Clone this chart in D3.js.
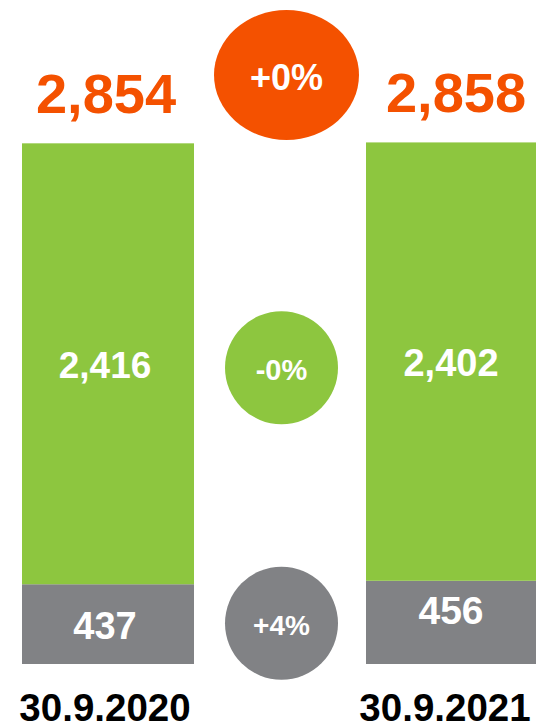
<!DOCTYPE html>
<meta charset="utf-8">
<style>
    body {
        margin: 0;
        background: #fff;
    }

    svg {
        font-family: "Liberation Sans", Arial, sans-serif;
        font-weight: bold;
        display: block;
    }
</style>
<body>
<script src="https://cdn.jsdelivr.net/npm/d3@7"></script>
<script>
    const width = 536;
    const height = 726;

    // data
    const dates = ["30.9.2020", "30.9.2021"];
    const coreValues = [2416, 2402];
    const otherValues = [437, 456];
    const totalValues = [2854, 2858];
    const changes = ["+0%", "-0%", "+4%"]; // total, core, other

    const orange = "#f45100";
    const green = "#8dc63f";
    const grey = "#818285";

    const svg = d3.select("body")
        .append("svg")
        .attr("width", width)
        .attr("height", height);

    const x = d3.scaleBand()
        .domain(dates)
        .range([22, 538])
        .paddingInner(0.5)
        .paddingOuter(0);

    const y = d3.scaleLinear()
        .domain([0, 3000])
        .range([664, 116.5]);

    const fmt = d3.format(",");

    // stacked segments: other at bottom, core on top
    const rows = dates.map((d, i) => ({
        date: d,
        other: otherValues[i],
        core: coreValues[i],
        total: totalValues[i]
    }));

    const stack = d3.stack().keys(["other", "core"])(rows);
    const colors = { other: grey, core: green };

    const layers = svg.selectAll(".layer")
        .data(stack)
        .enter().append("g")
        .attr("class", "layer")
        .attr("fill", s => colors[s.key]);

    layers.selectAll("rect")
        .data(s => s)
        .enter().append("rect")
        .attr("x", d => x(d.data.date))
        .attr("width", x.bandwidth())
        .attr("y", d => y(d[1]))
        .attr("height", d => y(d[0]) - y(d[1]));

    // labels inside the segments
    const segFont = { other: [38, 39], core: [37, 38] };
    const segDy = { other: [14.5, 1.5], core: [14, 14.5] };

    layers.selectAll("text")
        .data(s => s.map((d, i) => ({ key: s.key, d: d, i: i })))
        .enter().append("text")
        .attr("x", o => x(o.d.data.date) + x.bandwidth() / 2 - (o.i ? 1 : 3))
        .attr("y", o => (y(o.d[0]) + y(o.d[1])) / 2 + segDy[o.key][o.i])
        .attr("text-anchor", "middle")
        .attr("fill", "#fff")
        .style("font-size", o => segFont[o.key][o.i] + "px")
        .text(o => fmt(o.d.data[o.key]));

    // totals above bars
    svg.selectAll(".total")
        .data(rows)
        .enter().append("text")
        .attr("class", "total")
        .attr("x", (d, i) => x(d.date) + x.bandwidth() / 2 + (i ? 4 : -2))
        .attr("y", d => y(d.total) - 30)
        .attr("text-anchor", "middle")
        .attr("fill", orange)
        .style("font-size", "56px")
        .text(d => fmt(d.total));

    // date labels
    svg.selectAll(".date")
        .data(dates)
        .enter().append("text")
        .attr("class", "date")
        .attr("x", (d, i) => x(d) + x.bandwidth() / 2 + (i ? -7 : -3))
        .attr("y", 721)
        .attr("text-anchor", "middle")
        .attr("fill", "#000")
        .style("font-size", "38.5px")
        .text(d => d);

    // change bubbles between bars
    const cx = (x(dates[0]) + x.bandwidth() + x(dates[1])) / 2;
    const mid = key => d3.mean(stack.find(s => s.key === key), d => (y(d[0]) + y(d[1])) / 2);

    const bubbles = [
        { label: changes[0], fill: orange, cx: cx + 6.5, cy: 75, rx: 72.5, ry: 65, size: 36, dy: 15 },
        { label: changes[1], fill: green, cx: cx + 1.5, cy: mid("core") + 5, rx: 56.5, ry: 56.5, size: 29, dy: 12 },
        { label: changes[2], fill: grey, cx: cx + 1.5, cy: mid("other"), rx: 56.5, ry: 56.5, size: 28, dy: 12 }
    ];

    const b = svg.selectAll(".bubble")
        .data(bubbles)
        .enter().append("g")
        .attr("class", "bubble");

    b.append("ellipse")
        .attr("cx", d => d.cx)
        .attr("cy", d => d.cy)
        .attr("rx", d => d.rx)
        .attr("ry", d => d.ry)
        .attr("fill", d => d.fill);

    b.append("text")
        .attr("x", d => d.cx)
        .attr("y", d => d.cy + d.dy)
        .attr("text-anchor", "middle")
        .attr("fill", "#fff")
        .style("font-size", d => d.size + "px")
        .text(d => d.label);
</script>
</body>
</html>
